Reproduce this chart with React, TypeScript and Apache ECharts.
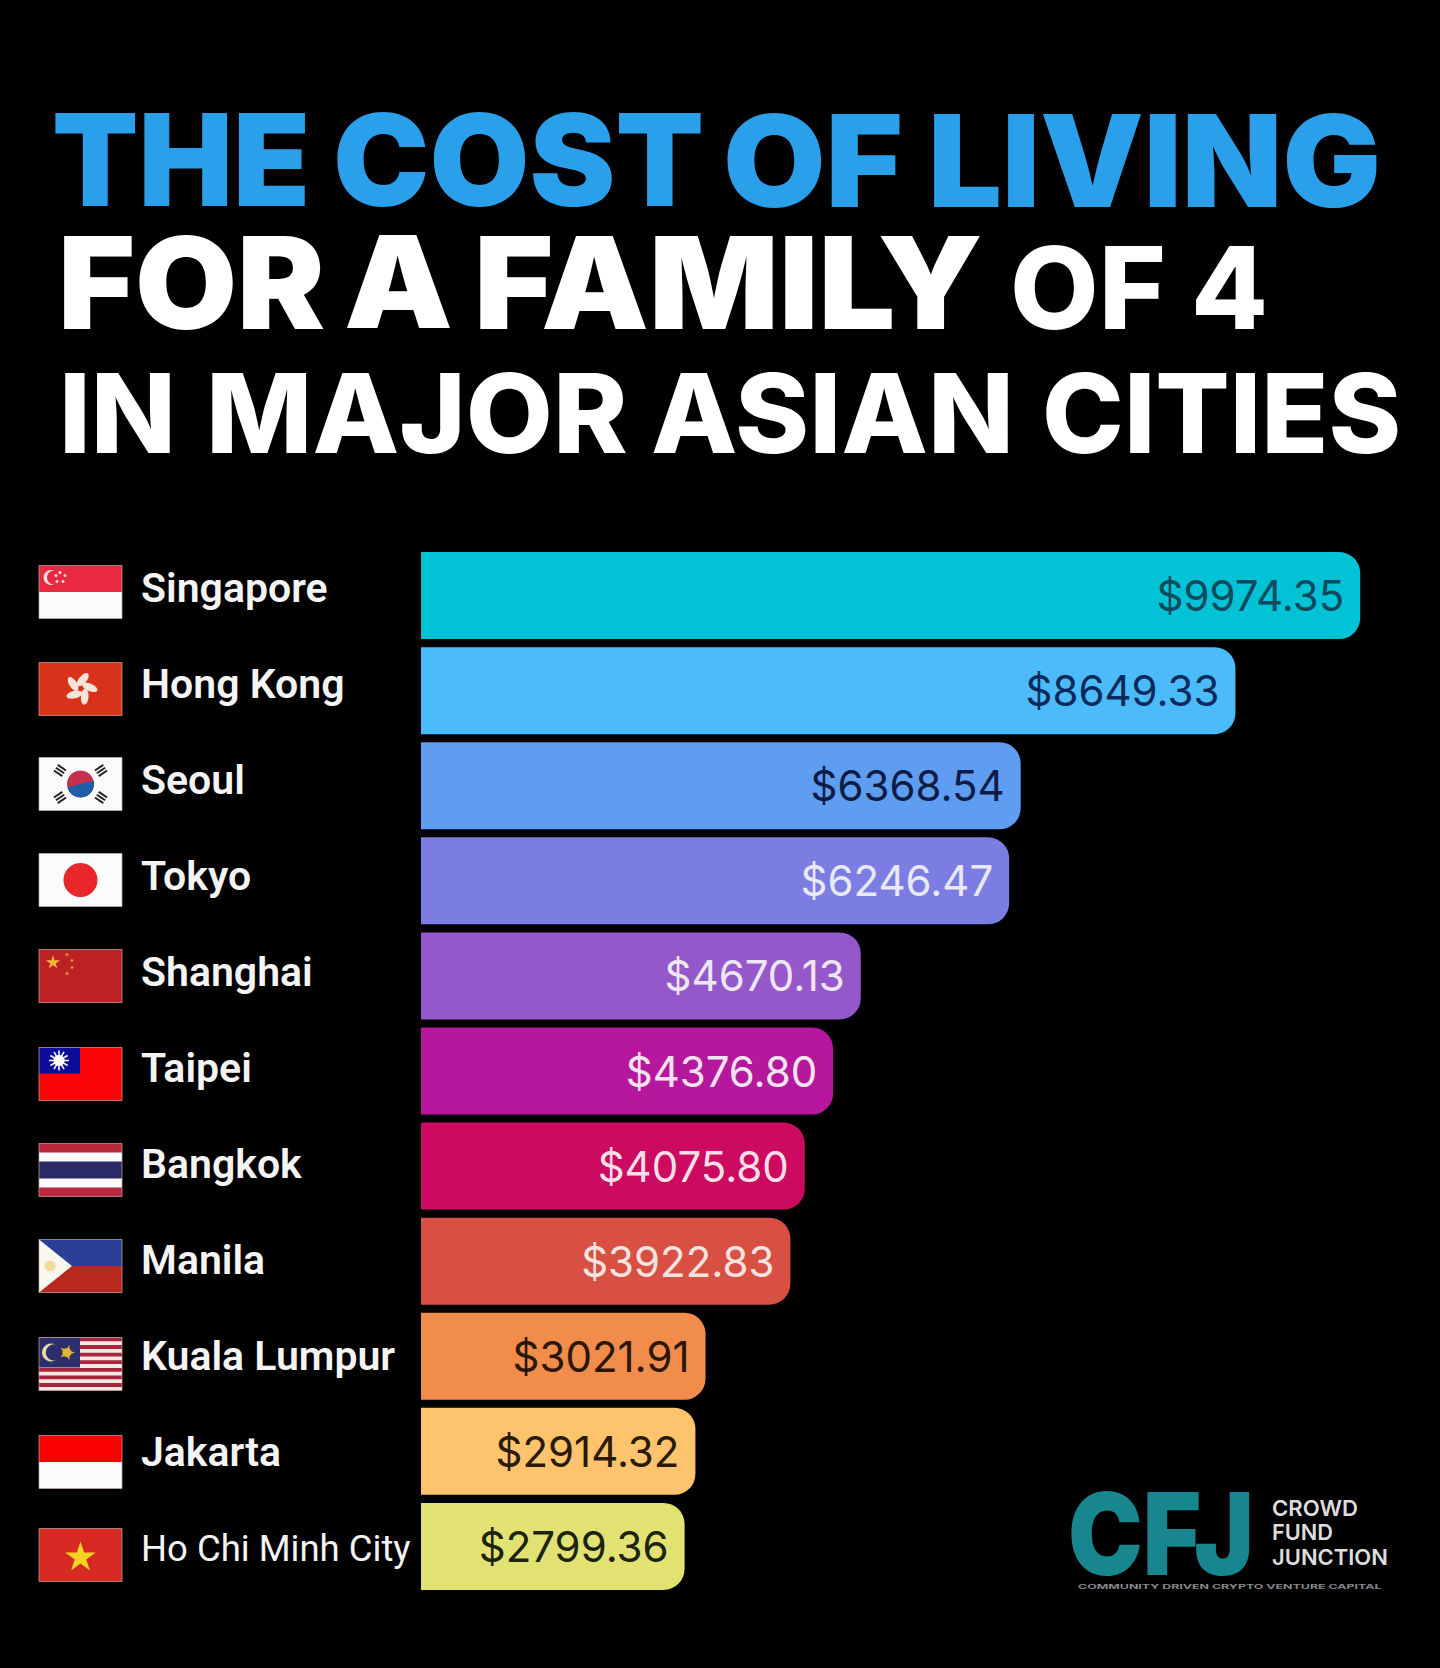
import React, { useEffect, useRef } from "react";
import * as echarts from "echarts";

const cities = ["Singapore", "Hong Kong", "Seoul", "Tokyo", "Shanghai", "Taipei", "Bangkok", "Manila", "Kuala Lumpur", "Jakarta", "Ho Chi Minh City"];
const costs = [9974.35, 8649.33, 6368.54, 6246.47, 4670.13, 4376.8, 4075.8, 3922.83, 3021.91, 2914.32, 2799.36];
const barColors = ["#02c3d6", "#4bbcf9", "#5f9df1", "#7b7de2", "#9558ca", "#b5189c", "#cb0a60", "#d85044", "#f28c4a", "#fdc36d", "#e2e272"];
const valueColors = ["#0c4a5e", "#0b2a5c", "#0e1c45", "#e9e9f4", "#efe6f5", "#f3e3f1", "#f7dfe8", "#f5e3df", "#2b160a", "#2a1a08", "#1c2410"];
const flagNudge = [0, 1, 0, 0, 0, 2, 2, 2, 4, 6, 3];

const W = 83;
const H = 53;

function star(cx: number, cy: number, R: number, rot = -Math.PI / 2) {
  const pts: number[][] = [];
  for (let i = 0; i < 10; i++) {
    const r = i % 2 ? R * 0.38 : R;
    const a = rot + (i * Math.PI) / 5;
    pts.push([cx + r * Math.cos(a), cy + r * Math.sin(a)]);
  }
  return pts;
}
const rect = (x: number, y: number, w: number, h: number, fill: string) => ({ type: "rect", shape: { x, y, width: w, height: h }, style: { fill } });
const circ = (cx: number, cy: number, r: number, fill: string) => ({ type: "circle", shape: { cx, cy, r }, style: { fill } });
const poly = (points: number[][], fill: string) => ({ type: "polygon", shape: { points }, style: { fill } });
const starEl = (cx: number, cy: number, R: number, fill: string, rot?: number) => poly(star(cx, cy, R, rot), fill);

function trigram(cx: number, cy: number, angle: number) {
  const c = Math.cos(angle), s = Math.sin(angle);
  return [-3.4, 0, 3.4].map((o) => ({
    type: "line",
    shape: { x1: cx + o * c - 5 * s, y1: cy + o * s + 5 * c, x2: cx + o * c + 5 * s, y2: cy + o * s - 5 * c },
    style: { stroke: "#222", lineWidth: 2 },
  }));
}

function flagParts(city: string): any[] {
  switch (city) {
    case "Singapore":
      return [
        rect(0, 0, W, H / 2, "#e8293f"), rect(0, H / 2, W, H / 2, "#fbfbfb"),
        circ(12, 12, 7.5, "#f6dfe0"), circ(15, 12, 7, "#e8293f"),
        circ(21, 7, 1.5, "#f6dfe0"), circ(26, 10, 1.5, "#f6dfe0"), circ(24, 16, 1.5, "#f6dfe0"), circ(18, 16, 1.5, "#f6dfe0"), circ(17, 10, 1.5, "#f6dfe0"),
      ];
    case "Hong Kong": {
      const petals = [0, 1, 2, 3, 4].map((i) => {
        const a = -Math.PI / 2 + 0.2 + (i * 2 * Math.PI) / 5;
        return { type: "ellipse", x: 42 + 9 * Math.cos(a), y: 26 + 9 * Math.sin(a), rotation: -a - 0.5, shape: { cx: 0, cy: 0, rx: 8, ry: 3.8 }, style: { fill: "#f6e3da" } };
      });
      return [rect(0, 0, W, H, "#d9321a"), ...petals, circ(42, 26, 1.6, "#d9321a")];
    }
    case "Seoul":
      return [
        rect(0, 0, W, H, "#fbfbfb"),
        circ(41.5, 26.5, 13.5, "#c6304d"),
        { type: "sector", shape: { cx: 41.5, cy: 26.5, r: 13.5, r0: 0, startAngle: -0.25, endAngle: Math.PI - 0.25 }, style: { fill: "#1e5ea8" } },
        ...trigram(21, 13, -0.98), ...trigram(62, 13, 0.98), ...trigram(21, 40, 0.98), ...trigram(62, 40, -0.98),
      ];
    case "Tokyo":
      return [rect(0, 0, W, H, "#fbfbfb"), circ(41.5, 26.5, 17, "#e8262b")];
    case "Shanghai":
      return [
        rect(0, 0, W, H, "#bc2223"), starEl(14, 13, 7.5, "#f6b23f"),
        starEl(28, 5, 2.2, "#f0a03c", 0.3), starEl(33, 11, 2.2, "#f0a03c", 0.6), starEl(33, 18, 2.2, "#f0a03c", 0), starEl(28, 24, 2.2, "#f0a03c", 0.3),
      ];
    case "Taipei": {
      const rays = [];
      for (let i = 0; i < 12; i++) {
        const a = (i * Math.PI) / 6;
        rays.push({ type: "line", shape: { x1: 20, y1: 13, x2: 20 + 10 * Math.cos(a), y2: 13 + 10 * Math.sin(a) }, style: { stroke: "#f5f5ff", lineWidth: 1.6 } });
      }
      return [rect(0, 0, W, H, "#fa0505"), rect(0, 0, 41, 26, "#0d0d9c"), ...rays, circ(20, 13, 5.5, "#fff")];
    }
    case "Bangkok":
      return [rect(0, 0, W, H, "#b9283d"), rect(0, 9, W, 35, "#fbfbfb"), rect(0, 18, W, 17, "#2c2a66")];
    case "Manila":
      return [
        rect(0, 0, W, H / 2, "#2b3f96"), rect(0, H / 2, W, H / 2, "#b8281f"),
        poly([[0, 0], [33, H / 2], [0, H]], "#f8f8f0"), circ(11, 26.5, 5.5, "#f3dc9b"),
      ];
    case "Kuala Lumpur": {
      const stripes = [];
      for (let i = 0; i < 7; i++) stripes.push(rect(0, i * 7.6, W, 3.8, "#a8273c"));
      return [
        rect(0, 0, W, H, "#f7e7e7"), ...stripes,
        rect(0, 0, 41, 30, "#2c2f6b"),
        circ(12, 15, 9, "#e8d9a6"), circ(15, 15, 8.2, "#2c2f6b"),
        starEl(28, 15, 8, "#e2b433", 0), circ(28, 15, 4.5, "#e2b433"),
      ];
    }
    case "Jakarta":
      return [rect(0, 0, W, H / 2, "#fa0000"), rect(0, H / 2, W, H / 2, "#fbfbfb")];
    default:
      return [rect(0, 0, W, H, "#d62a23"), starEl(41.5, 29, 16, "#f9d324")];
  }
}

const fit = (text: string, font: string, target: number) => {
  const ctx = document.createElement("canvas").getContext("2d")!;
  ctx.font = font;
  return target / ctx.measureText(text).width;
};

function fitText(text: string, family: string, weight: number, size: number, x: number, capCenter: number, width: number, fill: string) {
  return {
    type: "text", x, y: capCenter, scaleX: fit(text, `${weight} ${size}px ${family}`, width), originX: 0,
    style: { text, fontFamily: family, fontWeight: weight, fontSize: size, fill, align: "left", verticalAlign: "middle" },
  };
}

const BLUE = "#2a9fea";
const WHITE = "#ffffff";
const headline = (text: string, x0: number, x1: number, y: number, size: number, weight: number, fill: string) =>
  fitText(text, "Inter", weight, size, x0 - 4, y, x1 - x0 + 8, fill);

export default function App() {
  const ref = useRef<HTMLDivElement>(null);
  useEffect(() => {
    document.body.style.margin = "0";
    document.body.style.background = "#000";
    const chart = echarts.init(ref.current!, undefined, { renderer: "svg" });
    chart.setOption({
      animation: false,
      backgroundColor: "#000",
      grid: [
        { left: 421, top: 548, width: 1000, height: 1046 },
        { left: 39, width: 83, top: 540, height: 1056 },
      ],
      xAxis: [
        { type: "value", gridIndex: 0, min: 0, max: 10620, show: false },
        { type: "value", gridIndex: 1, min: 0, max: 1, show: false },
      ],
      yAxis: [
        { type: "category", gridIndex: 0, data: cities, inverse: true, show: false },
        {
          type: "category", gridIndex: 1, data: cities, inverse: true, position: "right",
          axisLine: { show: false }, axisTick: { show: false },
          axisLabel: {
            margin: 19, align: "left", color: "#f4f4f4", fontFamily: "Roboto", fontWeight: 600, fontSize: 41,
            formatter: (v: string) => (v === "Ho Chi Minh City" ? `{thin|${v}}` : v),
            rich: { thin: { fontFamily: "Roboto", fontWeight: 400, fontSize: 36.5, color: "#f4f4f4" } },
          },
        },
      ],
      series: [
        {
          type: "bar", xAxisIndex: 0, yAxisIndex: 0, barWidth: 87,
          data: costs.map((value, i) => ({
            value,
            itemStyle: { color: barColors[i], borderRadius: [0, 21, 21, 0] },
            label: { color: valueColors[i] },
          })),
          label: {
            show: true, position: "insideRight", distance: 16, fontFamily: "Inter", fontWeight: 400, fontSize: 42,
            formatter: (p: any) => "$" + p.value.toFixed(2),
          },
        },
        {
          type: "custom", xAxisIndex: 1, yAxisIndex: 1,
          data: cities.map((_, i) => [0, i]),
          encode: { x: 0, y: 1 },
          silent: true,
          renderItem: (params: any, api: any) => {
            const [x, y] = api.coord([0, api.value(1)]);
            return {
              type: "group", x, y: y + 4 + flagNudge[params.dataIndex] - H / 2,
              children: [...flagParts(cities[params.dataIndex]), { type: "rect", shape: { x: 0, y: 0, width: W, height: H }, style: { fill: "none", stroke: "rgba(200,170,170,0.7)", lineWidth: 1 } }],
            };
          },
        },
      ],
      graphic: [
        headline("THE", 56, 306, 160, 128, 900, BLUE),
        headline("COST", 337, 700, 160, 128, 900, BLUE),
        headline("OF", 727, 899, 160, 128, 900, BLUE),
        headline("LIVING", 932, 1377, 160, 128, 900, BLUE),
        headline("FOR", 62, 321, 282, 128, 900, WHITE),
        headline("A", 348, 449, 282, 128, 900, WHITE),
        headline("FAMILY", 478, 979, 282, 128, 900, WHITE),
        headline("OF", 1014, 1162, 288, 114, 800, WHITE),
        headline("4", 1195, 1264, 288, 114, 800, WHITE),
        headline("IN", 63, 172, 413, 110, 800, WHITE),
        headline("MAJOR", 210, 624, 413, 110, 800, WHITE),
        headline("ASIAN", 655, 1010, 413, 110, 800, WHITE),
        headline("CITIES", 1046, 1397, 413, 110, 800, WHITE),
        fitText("CFJ", "Inter", 900, 114, 1068, 1534, 186, "#17868f"),
        fitText("CROWD", "Inter", 600, 22, 1272, 1508, 86, "#dddddd"),
        fitText("FUND", "Inter", 600, 22, 1272, 1532, 61, "#dddddd"),
        fitText("JUNCTION", "Inter", 600, 22, 1272, 1557, 116, "#dddddd"),
        fitText("COMMUNITY DRIVEN CRYPTO VENTURE CAPITAL", "Inter", 700, 6, 1078, 1587, 304, "#888888"),
      ],
    });
    return () => chart.dispose();
  }, []);
  return <div ref={ref} style={{ position: "absolute", left: 0, top: 0, width: 1440, height: 1668 }} />;
}
